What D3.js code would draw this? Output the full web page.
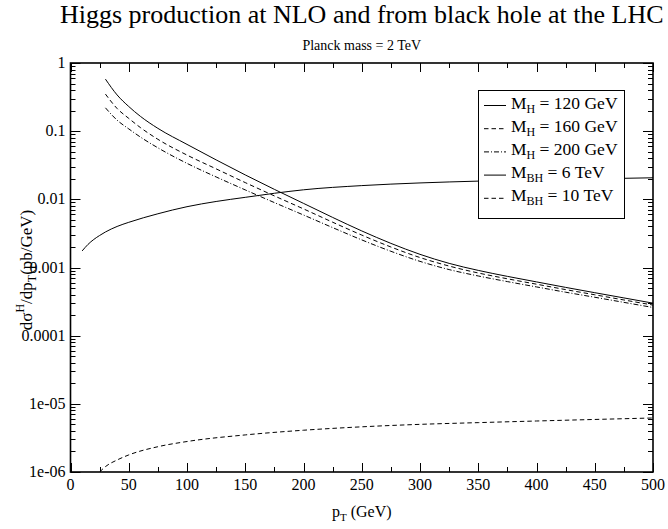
<!DOCTYPE html>
<html><head><meta charset="utf-8">
<script src="https://cdn.jsdelivr.net/npm/d3@7"></script>
<style>body{margin:0;background:#fff}svg{display:block}</style>
</head><body><svg id="c" width="668" height="529" font-family="'Liberation Serif', 'DejaVu Serif', serif"></svg>
<script>
// ---- data ----
const ptHiggs = [30,40,50,60,75,100,125,150,175,200,225,250,275,300,325,350,375,400,425,450,475,500];
const higgs120 = [0.58,0.34,0.23,0.165,0.11,0.064,0.0379,0.0228,0.0140,0.00872,0.00543,0.00344,0.00226,0.00156,0.00115,0.000907,0.000741,0.000615,0.000511,0.000427,0.000358,0.000300];
const higgs160 = [0.35,0.215,0.154,0.113,0.076,0.0446,0.0280,0.0176,0.01123,0.00724,0.00462,0.00299,0.00200,0.00140,0.00105,0.000831,0.000683,0.000569,0.000474,0.000398,0.000334,0.000281];
const higgs200 = [0.22,0.145,0.108,0.082,0.057,0.0337,0.0213,0.01375,0.00896,0.00589,0.00385,0.00254,0.00173,0.00123,0.000932,0.000751,0.000621,0.000519,0.000434,0.000366,0.000308,0.000259];
const ptBH6 = [10,15,20,25,30,40,50,75,100,125,150,175,200,250,300,350,400,450,500];
const bh6 = [0.00175,0.00218,0.00258,0.00295,0.00332,0.0040,0.0046,0.00614,0.0078,0.0093,0.0107,0.01227,0.0138,0.0159,0.0174,0.0185,0.0193,0.0200,0.0207];
const ptBH10 = [25,30,40,50,75,100,150,200,250,300,350,400,450,500];
const bh10 = [1.0e-6,1.2e-6,1.5e-6,1.78e-6,2.35e-6,2.8e-6,3.5e-6,4.1e-6,4.6e-6,5.0e-6,5.3e-6,5.6e-6,5.9e-6,6.2e-6];
const xTickLabels = ["0","50","100","150","200","250","300","350","400","450","500"];
const yTickLabels = ["1e-06","1e-05","0.0001","0.001","0.01","0.1","1"];
const legendLabels = [["M","H"," = 120 GeV"],["M","H"," = 160 GeV"],["M","H"," = 200 GeV"],["M","BH"," = 6 TeV"],["M","BH"," = 10 TeV"]];
const titleText = "Higgs production at NLO and from black hole at the LHC";
const subtitleText = "Planck mass = 2 TeV";

// ---- layout ----
const FONT = "'Liberation Serif', 'DejaVu Serif', serif";
const L = 70.5, R = 653, T = 63, B = 472;
const svg = d3.select("#c");
const x = d3.scaleLinear().domain([0,500]).range([L,R]);
const y = d3.scaleLog().domain([1e-6,1]).range([B,T]);
const txt = (sel)=>sel.append("text").style("font-family",FONT).attr("fill","#000");

const series = [
  {pt: ptHiggs, v: higgs120, dash: null},
  {pt: ptHiggs, v: higgs160, dash: "4.5,3"},
  {pt: ptHiggs, v: higgs200, dash: "5,2,1,2"},
  {pt: ptBH6, v: bh6, dash: null},
  {pt: ptBH10, v: bh10, dash: "4.5,3"}
];

svg.append("clipPath").attr("id","clip").append("rect").attr("x",L).attr("y",T).attr("width",R-L).attr("height",B-T);
const line = d3.line().x(d=>x(d[0])).y(d=>y(d[1])).curve(d3.curveMonotoneX);
const g = svg.append("g").attr("clip-path","url(#clip)");
series.forEach(s=>{
  g.append("path").datum(s.pt.map((p,i)=>[p,s.v[i]]))
   .attr("d",line).attr("fill","none").attr("stroke","#000").attr("stroke-width",1)
   .attr("stroke-dasharray",s.dash);
});

// ticks (inside, all four sides)
const tk = svg.append("g").attr("stroke","#000").attr("stroke-width",1);
for(let p=0;p<=500;p+=25){
  const major = p%50===0, len = major?9:5, xx = Math.round(x(p))+0.5;
  tk.append("line").attr("x1",xx).attr("x2",xx).attr("y1",B).attr("y2",B-len);
  tk.append("line").attr("x1",xx).attr("x2",xx).attr("y1",T).attr("y2",T+len);
}
for(let e=-6;e<=0;e++){
  for(let m=1;m<=9;m++){
    const v = m*Math.pow(10,e); if(v>1) break;
    const len = m===1?10:5, yy = Math.round(y(v))+0.5;
    tk.append("line").attr("x1",L).attr("x2",L+len).attr("y1",yy).attr("y2",yy);
    tk.append("line").attr("x1",R).attr("x2",R-len).attr("y1",yy).attr("y2",yy);
  }
}
// frame
svg.append("rect").attr("x",L).attr("y",T).attr("width",R-L).attr("height",B-T)
  .attr("fill","none").attr("stroke","#000").attr("stroke-width",1.6);

// tick labels
xTickLabels.forEach((t)=>{
  txt(svg).attr("x",x(+t)).attr("y",B+18).attr("text-anchor","middle")
    .attr("font-size",16).text(t);
});
yTickLabels.forEach((t,i)=>{
  txt(svg).attr("x",L-5).attr("y",y(Math.pow(10,i-6))+5).attr("text-anchor","end")
    .attr("font-size",16).text(t);
});

// titles
txt(svg).attr("x",(L+R)/2).attr("y",23).attr("text-anchor","middle").attr("font-size",26).text(titleText);
txt(svg).attr("x",(L+R)/2).attr("y",50).attr("text-anchor","middle").attr("font-size",14).text(subtitleText);

// x axis title
const xt = txt(svg).attr("x",(L+R)/2).attr("y",517).attr("text-anchor","middle").attr("font-size",16);
xt.append("tspan").text("p");
xt.append("tspan").attr("font-size",11).attr("dy",4).text("T");
xt.append("tspan").attr("dy",-4).text(" (GeV)");

// y axis title
const yt = txt(svg).attr("transform",`translate(32,270) rotate(-90)`).attr("text-anchor","middle").attr("font-size",17);
yt.append("tspan").text("dσ");
yt.append("tspan").attr("font-size",12).attr("dy",-8).text("H");
yt.append("tspan").attr("dy",8).text("/dp");
yt.append("tspan").attr("font-size",12).attr("dy",4).text("T");
yt.append("tspan").attr("dy",-4).text("(pb/GeV)");

// legend
const lg = svg.append("g");
lg.append("rect").attr("x",478.5).attr("y",90.5).attr("width",146).attr("height",128)
  .attr("fill","#fff").attr("stroke","#000").attr("stroke-width",1);
legendLabels.forEach((lab,i)=>{
  const cy = 105.5 + i*23.2;
  lg.append("line").attr("x1",484).attr("x2",506).attr("y1",cy).attr("y2",cy)
    .attr("stroke","#000").attr("stroke-width",1).attr("stroke-dasharray",series[i].dash);
  const t = txt(lg).attr("x",511).attr("y",cy+3).attr("font-size",17.5);
  t.append("tspan").text(lab[0]);
  t.append("tspan").attr("font-size",12).attr("dy",4).text(lab[1]);
  t.append("tspan").attr("dy",-4).text(lab[2]);
});
</script></body></html>
